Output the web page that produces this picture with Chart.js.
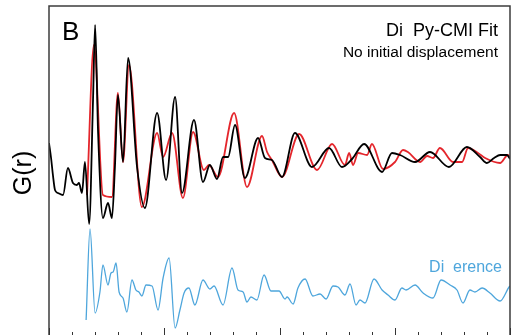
<!DOCTYPE html>
<html>
<head>
<meta charset="utf-8">
<script src="https://cdn.jsdelivr.net/npm/chart.js@4/dist/chart.umd.min.js"></script>
<style>
  html, body { margin: 0; padding: 0; background: #fff; }
  #wrap { width: 521px; height: 335px; }
</style>
</head>
<body>
<div id="wrap"><canvas id="pdfChart"></canvas></div>
<script>
// observed G(r)
const obsR = [0.00, 0.09, 0.17, 0.26, 0.39, 0.61, 0.82, 1.04, 1.21, 1.30, 1.43, 1.56, 1.74, 1.91, 2.00, 2.13, 2.34, 2.56, 2.73, 2.86, 2.99, 3.21, 3.43, 3.82, 4.16, 4.69, 5.08, 5.47, 5.77, 6.29, 6.68, 6.98, 7.29, 7.55, 7.77, 8.07, 8.50, 9.07, 9.37, 9.67, 10.11, 10.67, 11.41, 12.15, 12.71, 13.15, 13.67, 14.45, 14.88, 15.23, 15.88, 16.53, 17.35, 18.13, 18.70, 19.00, 19.31, 19.57, 19.87, 20.00];
const obsG = [1.5, 0.0, -1.7, -3.2, -3.5, -3.7, -1.0, -2.5, -2.7, -2.5, -3.5, -0.4, -6.6, 5.8, 13.3, 2.5, -6.0, -4.5, -6.0, -0.9, 6.3, -0.4, 10.0, -0.9, -5.0, 4.5, -2.2, 6.1, -3.5, 3.8, -2.4, -0.7, -2.1, 0.1, 0.1, 3.3, -2.0, 2.0, 0.0, -0.2, -1.9, 2.5, -0.9, 1.0, -0.9, -0.1, 1.4, -1.4, 0.5, 0.3, -0.4, 0.6, -0.9, 1.1, 0.1, -0.5, 0.0, 0.3, 0.3, -0.1];

// DiffPy-CMI fit
const fitR = [1.65, 1.95, 2.34, 2.73, 2.99, 3.21, 3.47, 4.03, 4.69, 4.95, 5.34, 5.81, 6.25, 6.72, 6.94, 7.33, 8.03, 8.59, 9.24, 9.46, 9.67, 10.11, 10.85, 11.63, 12.28, 12.84, 13.02, 13.19, 13.41, 13.80, 14.01, 14.49, 15.01, 15.36, 15.57, 16.10, 16.40, 16.66, 16.96, 17.53, 17.92, 18.18, 18.61, 18.92, 19.57, 19.91, 20.00];
const fitG = [-3.7, 11.3, -3.7, -3.9, 6.5, -0.4, 9.3, -4.9, 2.5, 0.1, 2.5, -4.0, 2.6, -1.2, -0.7, -1.9, 4.5, -2.9, 2.2, 0.6, -0.2, -1.9, 2.4, -1.2, 1.4, -0.7, 0.5, -0.7, 0.5, 0.3, 1.4, -1.1, -0.4, 0.8, 0.6, -0.4, 0.2, 0.0, 1.0, -0.4, -0.4, 1.0, 0.5, 0.0, -0.5, 0.3, 0.0];

// difference (obs - fit), drawn below with an offset
const diffR = [1.61, 1.78, 2.00, 2.21, 2.34, 2.56, 2.69, 2.78, 2.91, 3.04, 3.21, 3.38, 3.60, 3.77, 3.90, 4.03, 4.21, 4.47, 4.73, 4.95, 5.21, 5.47, 5.68, 5.86, 6.07, 6.33, 6.68, 6.98, 7.16, 7.55, 7.94, 8.20, 8.42, 8.59, 8.76, 9.02, 9.33, 9.63, 9.98, 10.24, 10.33, 10.59, 10.80, 11.11, 11.45, 11.76, 12.02, 12.32, 12.54, 12.84, 13.06, 13.32, 13.49, 13.71, 14.10, 14.45, 14.71, 15.01, 15.31, 15.49, 15.88, 16.23, 16.66, 17.01, 17.40, 17.70, 17.96, 18.26, 18.48, 18.79, 19.13, 19.57, 19.96, 20.00];
const diffG = [-3.0, 6.1, -2.3, -0.2, 2.5, 0.5, 1.7, 1.8, 2.7, -0.2, -0.8, -2.2, 1.0, 0.0, -0.2, -0.6, 0.5, 0.4, -2.0, 1.2, 3.2, -3.8, -2.0, -0.3, 0.2, -1.5, 1.0, 0.1, 0.4, -1.5, 2.2, 0.0, -0.2, -1.2, -0.7, -1.0, 1.5, -0.1, -0.1, -0.9, -0.7, -1.4, 0.2, 1.1, -0.6, -0.4, -0.9, 0.4, 0.3, -0.5, 0.6, -1.5, -1.0, -1.3, 1.1, 0.0, -0.5, -1.0, 0.2, 0.0, 0.5, -0.3, -0.8, 1.0, 0.5, 0.0, -1.3, 0.0, -0.2, 0.2, -0.3, -1.1, 0.3, 0.4];
const diffOffset = -13.2;

const rTicks = [0, 1, 2, 3, 4, 5, 6, 7, 8, 9, 10, 11, 12, 13, 14, 15, 16, 17, 18, 19, 20];

function pts(xs, ys, off) {
    return xs.map(function(x, i) { return { x: x, y: ys[i] + (off || 0) }; });
}

const frame = {
    id: 'frame',
    afterDatasetsDraw: function(chart) {
        const c = chart.ctx, a = chart.chartArea, xs = chart.scales.x;
        c.save();
        c.strokeStyle = '#3c3c3c';
        c.lineWidth = 1.5;
        c.beginPath();
        c.moveTo(a.left, 335);
        c.lineTo(a.left, a.top);
        c.lineTo(a.right, a.top);
        c.lineTo(a.right, 335);
        c.stroke();

        // inward ticks along the bottom
        c.lineWidth = 1;
        c.strokeStyle = '#333';
        rTicks.forEach(function(t) {
            const px = Math.round(xs.getPixelForValue(t)) + 0.5;
            const len = (t % 5 === 0) ? 7 : 3;
            c.beginPath();
            c.moveTo(px, 335);
            c.lineTo(px, 335 - len);
            c.stroke();
        });

        c.fillStyle = '#000';
        c.font = '26px "Liberation Sans", Arial, sans-serif';
        c.textAlign = 'left';
        c.textBaseline = 'alphabetic';
        c.fillText('B', 62, 40);

        c.textAlign = 'right';
        c.font = '18px "Liberation Sans", Arial, sans-serif';
        c.fillText('Di  Py-CMI Fit', 498, 36);
        c.font = '15.5px "Liberation Sans", Arial, sans-serif';
        c.fillText('No initial displacement', 498, 57);

        c.fillStyle = '#4ea6dc';
        c.font = '16px "Liberation Sans", Arial, sans-serif';
        c.fillText('Di  erence', 502, 272);

        c.fillStyle = '#000';
        c.translate(31, 173);
        c.rotate(-Math.PI / 2);
        c.textAlign = 'center';
        c.font = '25px "Liberation Sans", Arial, sans-serif';
        c.fillText('G(r)', 0, 0);
        c.restore();
    }
};

var ctx = document.getElementById('pdfChart').getContext('2d');
var pdfChart = new Chart(ctx, {
    type: 'line',
    data: {
        datasets: [{
            label: 'Difference',
            data: pts(diffR, diffG, diffOffset),
            borderColor: '#4ea6dc',
            borderWidth: 1.3
        }, {
            label: 'Observed',
            data: pts(obsR, obsG),
            borderColor: '#000000',
            borderWidth: 1.8
        }, {
            label: 'DiffPy-CMI Fit',
            data: pts(fitR, fitG),
            borderColor: '#e4262c',
            borderWidth: 1.8
        }]
    },
    options: {
        responsive: true,
        maintainAspectRatio: false,
        animation: false,
        layout: { padding: { left: 49, right: 11, top: 6, bottom: 0 } },
        elements: {
            point: { radius: 0 },
            line: { cubicInterpolationMode: 'monotone', fill: false }
        },
        plugins: { legend: { display: false }, tooltip: { enabled: false } },
        scales: {
            x: { type: 'linear', min: 0, max: 20, display: false },
            y: { min: -17.7, max: 15.2, display: false }
        }
    },
    plugins: [frame]
});
</script>
</body>
</html>
